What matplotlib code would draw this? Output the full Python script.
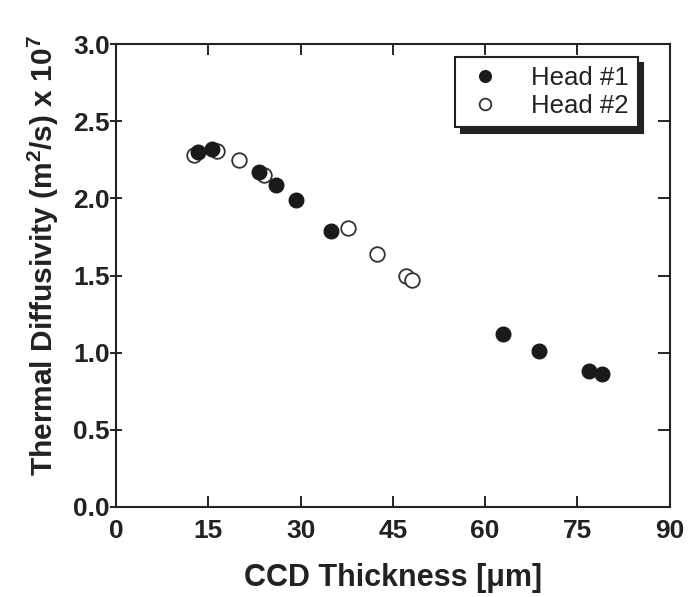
import matplotlib
matplotlib.use("Agg")
import matplotlib.pyplot as plt

plt.rcParams['font.family'] = ['Liberation Sans', 'DejaVu Sans']
plt.rcParams['mathtext.fontset'] = 'custom'
plt.rcParams['mathtext.rm'] = 'Liberation Sans:bold'
plt.rcParams['mathtext.bf'] = 'Liberation Sans:bold'
plt.rcParams['mathtext.default'] = 'bf'

head1_x = [13.3, 15.6, 23.3, 26.0, 29.3, 34.9, 62.9, 68.7, 76.9, 79.0]
head1_y = [2.30, 2.32, 2.17, 2.09, 1.99, 1.79, 1.12, 1.01, 0.88, 0.86]
head2_x = [12.7, 16.4, 20.0, 24.0, 37.7, 42.5, 47.1, 48.1]
head2_y = [2.28, 2.31, 2.25, 2.15, 1.81, 1.64, 1.50, 1.47]

x_ticks = [0, 15, 30, 45, 60, 75, 90]
y_ticks = [0.0, 0.5, 1.0, 1.5, 2.0, 2.5, 3.0]

ink = '#222222'

fig = plt.figure(figsize=(6.99, 5.97), dpi=100)
ax = fig.add_axes([0.166, 0.151, 0.792, 0.775])

ax.plot(head2_x, head2_y, 'o', ms=10.5, mfc='white', mec='#333333', mew=1.3, label='Head #2', zorder=3)
ax.plot(head1_x, head1_y, 'o', ms=10.5, mfc='#1a1a1a', mec='#1a1a1a', label='Head #1', zorder=4)

ax.set_xlim(0, 90)
ax.set_ylim(0, 3.0)
ax.set_xticks(x_ticks)
ax.set_yticks(y_ticks)
ax.set_yticklabels([f"{v:.1f}" for v in y_ticks])
ax.tick_params(axis='x', direction='in', length=8, width=1.2, top=True,
               labelsize=19, pad=9)
ax.tick_params(axis='y', direction='inout', length=9, width=1.2, right=True,
               labelsize=19, pad=0)
for t in ax.yaxis.get_major_ticks():
    t.tick2line.set_marker(0)  # inward tick on right side
for lab in ax.get_xticklabels() + ax.get_yticklabels():
    lab.set_fontweight('bold')
    lab.set_color(ink)
for s in ax.spines.values():
    s.set_linewidth(1.5)
    s.set_color(ink)

ax.set_xlabel('CCD Thickness [\u03bcm]', fontsize=22, fontweight='bold', color=ink, labelpad=14)
ax.set_ylabel('Thermal Diffusivity (m$^2$/s) x 10$^7$', fontsize=21.5, fontweight='bold',
              color=ink)
ax.yaxis.set_label_coords(-0.099, 0.542)

handles, labels = ax.get_legend_handles_labels()
order = [1, 0]
leg = ax.legend([handles[i] for i in order], [labels[i] for i in order],
                loc='upper right', bbox_to_anchor=(0.942, 0.972), borderaxespad=0,
                fontsize=18.5, frameon=True, markerscale=0.8,
                fancybox=False, edgecolor=ink, handletextpad=1.0,
                borderpad=0.35, labelspacing=0.15, handlelength=1.6,
                shadow={'color': ink, 'alpha': 1, 'ox': 4, 'oy': -4})
leg.get_frame().set_linewidth(1.5)
for t in leg.get_texts():
    t.set_color(ink)

fig.savefig('out.png', dpi=100)
